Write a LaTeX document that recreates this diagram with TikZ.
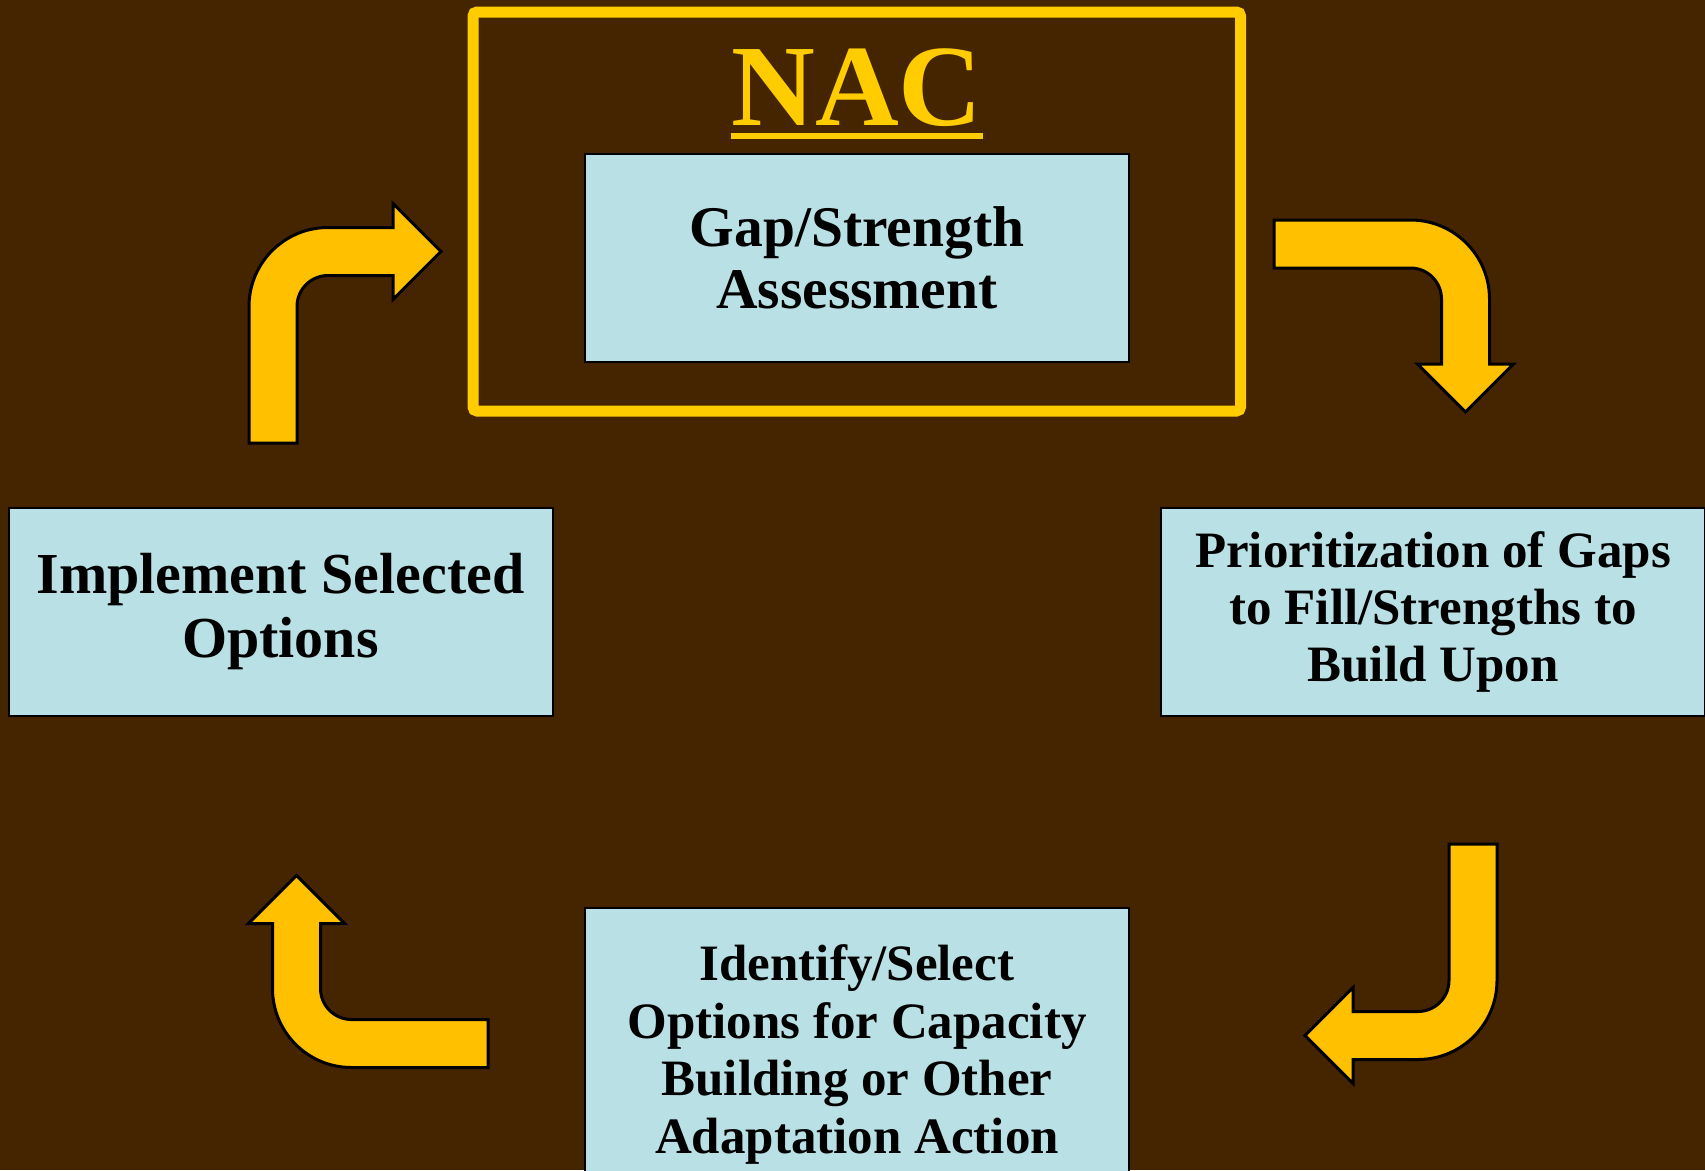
\documentclass[tikz,border=0pt]{standalone}
\usepackage{fontspec}
\setmainfont{Liberation Serif}
\usetikzlibrary{positioning}

\definecolor{bgbrown}{RGB}{69,36,0}
\definecolor{arrowyellow}{RGB}{255,192,0}
\definecolor{frameyellow}{RGB}{255,204,0}
\definecolor{boxblue}{RGB}{185,224,228}

\begin{document}
\begin{tikzpicture}[
x=1pt,y=1pt,
mybox/.style={
  draw=black,
  line width=2pt,
  fill=boxblue,
  minimum width=544pt,
  minimum height=208pt,
  align=center
  },
bentarrow/.pic={
  \draw[fill=arrowyellow,line width=3pt,line join=miter]
    (-24,-191.5) -- (-24,-55) arc[start angle=180,end angle=90,radius=79]
    -- (120,24) -- (120,48) -- (168,0) -- (120,-48) -- (120,-24) -- (55,-24)
    arc[start angle=90,end angle=180,radius=31] -- (24,-191.5) -- cycle;
  }
]
\fill[bgbrown] (0,0) rectangle (1705,-1170);
\useasboundingbox (0,0) rectangle (1705,-1170);
\clip (0,0) rectangle (1705,-1170);

\node[draw=frameyellow,line width=11pt,rounded corners=4pt,
  minimum width=767.5pt,minimum height=399pt] (nacframe) at (856.75,-211.5) {};
\node[text=frameyellow,inner sep=0pt,anchor=base,
  font=\bfseries\fontsize{116}{116}\selectfont] (nac) at (857,-125) {NAC};
\draw[frameyellow,line width=6pt]
  ([yshift=-11pt]nac.base west) -- ([yshift=-11pt]nac.base east);

\node[mybox,font=\bfseries\fontsize{57.5}{62}\selectfont] (gap) at (857,-258)
  {Gap/Strength\\Assessment};
\node[mybox,font=\bfseries\fontsize{58}{64}\selectfont] (impl) at (280.5,-612)
  {Implement Selected\\Options};
\node[mybox,font=\bfseries\fontsize{51}{57}\selectfont] (prio) at (1433,-612)
  {Prioritization of Gaps\\to Fill/Strengths to\\Build Upon};
\node[mybox,font=\bfseries\fontsize{51}{57.6}\selectfont,minimum height=293pt]
  (ident) at (857,-1054.5)
  {Identify/Select\\Options for Capacity\\Building or Other\\Adaptation Action};

% bent arrows round the cycle
\coordinate (turn1) at (273,-251.5);
\coordinate (turn2) at (1465.5,-244);
\coordinate (turn3) at (1473,-1035.5);
\coordinate (turn4) at (296.5,-1043.5);
\pic at (turn1) {bentarrow};
\pic[rotate=-90] at (turn2) {bentarrow};
\pic[rotate=180] at (turn3) {bentarrow};
\pic[rotate=90] at (turn4) {bentarrow};
\end{tikzpicture}
\end{document}
